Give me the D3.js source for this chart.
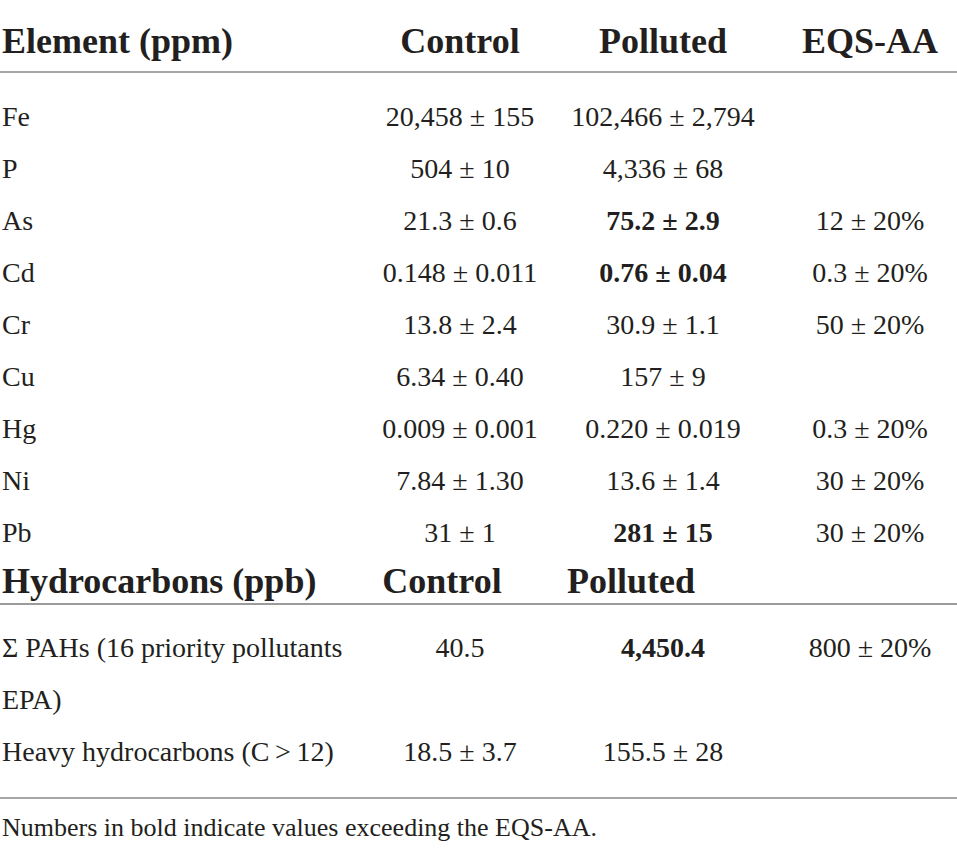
<!DOCTYPE html>
<html>
<head>
<meta charset="utf-8">
<script src="https://cdn.jsdelivr.net/npm/d3@7/dist/d3.min.js"></script>
<style>
  html, body { margin: 0; padding: 0; background: #fff; }
  svg { display: block; }
  text { font-family: "Liberation Serif", "Times New Roman", serif; fill: #231f20; }
</style>
</head>
<body>
<svg id="chart" width="957" height="850"></svg>
<script>
// ---- data ----
const headerLabels = ["Element (ppm)", "Control", "Polluted", "EQS-AA"];
const elements = ["Fe", "P", "As", "Cd", "Cr", "Cu", "Hg", "Ni", "Pb"];
const controlValues = ["20,458 ± 155", "504 ± 10", "21.3 ± 0.6", "0.148 ± 0.011", "13.8 ± 2.4", "6.34 ± 0.40", "0.009 ± 0.001", "7.84 ± 1.30", "31 ± 1"];
const pollutedValues = ["102,466 ± 2,794", "4,336 ± 68", "75.2 ± 2.9", "0.76 ± 0.04", "30.9 ± 1.1", "157 ± 9", "0.220 ± 0.019", "13.6 ± 1.4", "281 ± 15"];
const eqsValues = ["", "", "12 ± 20%", "0.3 ± 20%", "50 ± 20%", "", "0.3 ± 20%", "30 ± 20%", "30 ± 20%"];
const pollutedBold = [false, false, true, true, false, false, false, false, true];

const hcHeaderLabels = ["Hydrocarbons (ppb)", "Control", "Polluted"];
const hcNames = ["Σ PAHs (16 priority pollutants", "EPA)", "Heavy hydrocarbons (C\u2009>\u200912)"];
const hcControl = ["40.5", "", "18.5 ± 3.7"];
const hcPolluted = ["4,450.4", "", "155.5 ± 28"];
const hcEqs = ["800 ± 20%", "", ""];
const hcPollutedBold = [true, false, false];

const footnote = "Numbers in bold indicate values exceeding the EQS-AA.";

// ---- layout ----
const svg = d3.select("#chart");
const W = 957;
const colKeys = ["name", "control", "polluted", "eqs"];
const xCol = d3.scaleOrdinal().domain(colKeys).range([2, 460, 663, 870]);
const anchorCol = d3.scaleOrdinal().domain(colKeys).range(["start", "middle", "middle", "middle"]);
const xHcHead = d3.scaleOrdinal().domain(["name", "control", "polluted"]).range([2, 442, 631]);

const yBody = d3.scaleLinear().domain([0, 1]).range([126, 178]);
const yHc = d3.scaleLinear().domain([0, 1]).range([657, 709]);

const bodyFont = 28, headFont = 36, noteFont = 26;

// header
svg.append("g").selectAll("text")
  .data(headerLabels.map((t, i) => ({ t, k: colKeys[i] })))
  .join("text")
  .attr("x", d => xCol(d.k))
  .attr("y", 53)
  .attr("text-anchor", d => anchorCol(d.k))
  .attr("font-size", headFont)
  .attr("font-weight", "bold")
  .text(d => d.t);

svg.append("line").attr("x1", 0).attr("x2", W).attr("y1", 72).attr("y2", 72)
  .attr("stroke", "#a6a6a6").attr("stroke-width", 2);

// element rows
const rows = elements.map((e, i) => ([
  { k: "name", t: e, b: false },
  { k: "control", t: controlValues[i], b: false },
  { k: "polluted", t: pollutedValues[i], b: pollutedBold[i] },
  { k: "eqs", t: eqsValues[i], b: false }
]));

const rg = svg.append("g").selectAll("g").data(rows).join("g")
  .attr("transform", (d, i) => `translate(0,${yBody(i)})`);
rg.selectAll("text").data(d => d.filter(c => c.t !== "")).join("text")
  .attr("x", d => xCol(d.k))
  .attr("text-anchor", d => anchorCol(d.k))
  .attr("font-size", bodyFont)
  .attr("font-weight", d => d.b ? "bold" : "normal")
  .text(d => d.t);

// hydrocarbons header
svg.append("g").selectAll("text")
  .data(hcHeaderLabels.map((t, i) => ({ t, k: colKeys[i] })))
  .join("text")
  .attr("x", d => xHcHead(d.k))
  .attr("y", 593)
  .attr("font-size", headFont)
  .attr("font-weight", "bold")
  .attr("text-anchor", d => d.k === "name" ? "start" : "middle")
  .text(d => d.t);

svg.append("line").attr("x1", 0).attr("x2", W).attr("y1", 604).attr("y2", 604)
  .attr("stroke", "#7a7a7a").attr("stroke-width", 1.5);

const hcRows = hcNames.map((n, i) => ([
  { k: "name", t: n, b: false },
  { k: "control", t: hcControl[i], b: false },
  { k: "polluted", t: hcPolluted[i], b: hcPollutedBold[i] },
  { k: "eqs", t: hcEqs[i], b: false }
]));
const hg = svg.append("g").selectAll("g").data(hcRows).join("g")
  .attr("transform", (d, i) => `translate(0,${yHc(i)})`);
hg.selectAll("text").data(d => d.filter(c => c.t !== "")).join("text")
  .attr("x", d => xCol(d.k))
  .attr("text-anchor", d => anchorCol(d.k))
  .attr("font-size", bodyFont)
  .attr("font-weight", d => d.b ? "bold" : "normal")
  .text(d => d.t);

svg.append("line").attr("x1", 0).attr("x2", W).attr("y1", 798).attr("y2", 798)
  .attr("stroke", "#a6a6a6").attr("stroke-width", 2);

svg.append("text").attr("x", 2).attr("y", 836)
  .attr("font-size", noteFont)
  .text(footnote);
</script>
</body>
</html>
